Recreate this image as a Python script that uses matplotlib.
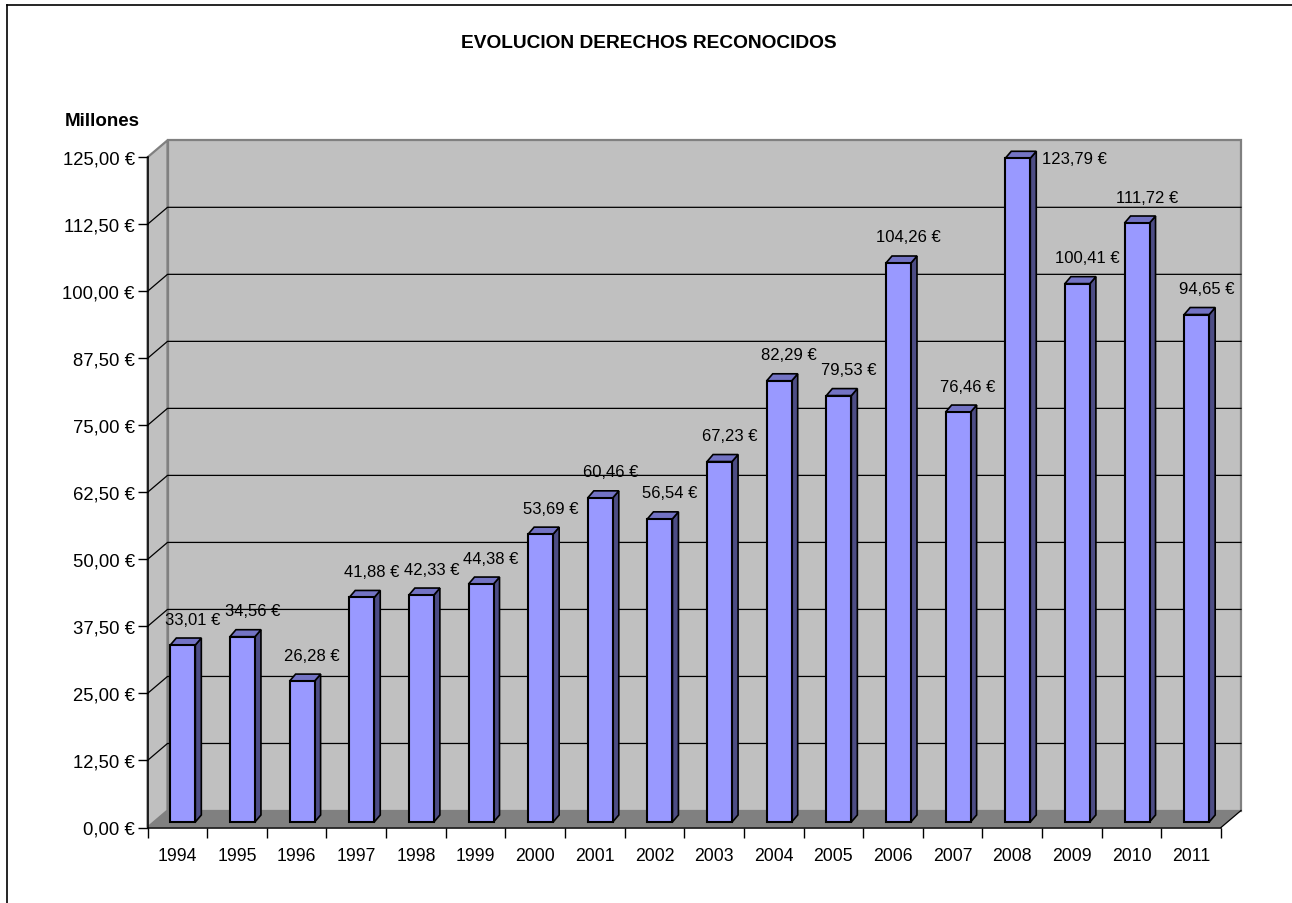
import numpy as np
import matplotlib
matplotlib.use("Agg")
import matplotlib.pyplot as plt
from matplotlib.patches import Polygon
from matplotlib.lines import Line2D

plt.rcParams['font.family'] = ['Liberation Sans', 'DejaVu Sans']

# ---- data ----
years = ['1994', '1995', '1996', '1997', '1998', '1999', '2000', '2001', '2002',
         '2003', '2004', '2005', '2006', '2007', '2008', '2009', '2010', '2011']
values = [33.01, 34.56, 26.28, 41.88, 42.33, 44.38, 53.69, 60.46, 56.54,
          67.23, 82.29, 79.53, 104.26, 76.46, 123.79, 100.41, 111.72, 94.65]
y_ticks = [0, 12.5, 25, 37.5, 50, 62.5, 75, 87.5, 100, 112.5, 125]
title = 'EVOLUCION DERECHOS RECONOCIDOS'
unit_label = 'Millones'


def euro(v):
    return f"{v:.2f}".replace('.', ',') + ' €'


W, H = 1292, 904
fig = plt.figure(figsize=(W / 100, H / 100), dpi=100)
fig.patch.set_facecolor('white')

# front plane of the 3D box in pixels
fx0, fx1 = 147.5, 1221.0
fy0, fy1 = 828.5, 158.3
ax = fig.add_axes([fx0 / W, (H - fy0) / H, (fx1 - fx0) / W, (fy0 - fy1) / H])
n = len(years)
xmin, xmax = -0.5, n - 0.5
ymin, ymax = 0, 125
ax.set_xlim(xmin, xmax)
ax.set_ylim(ymin, ymax)
ax.patch.set_visible(False)

ppx = (fx1 - fx0) / (xmax - xmin)   # pixels per category
ppy = (fy0 - fy1) / (ymax - ymin)   # pixels per unit

# depth of the box (pixels -> data)
DX, DY = 20 / ppx, 17 / ppy
wall_c, floor_c, edge_c = '#C0C0C0', '#808080', '#808080'

# back wall
ax.add_patch(Polygon([(xmin + DX, ymin + DY), (xmax + DX, ymin + DY),
                      (xmax + DX, ymax + DY), (xmin + DX, ymax + DY)],
                     closed=True, facecolor=wall_c, edgecolor=edge_c, lw=1.6,
                     clip_on=False, zorder=1))
# left side wall
ax.add_patch(Polygon([(xmin, ymin), (xmin + DX, ymin + DY),
                      (xmin + DX, ymax + DY), (xmin, ymax)],
                     closed=True, facecolor=wall_c, edgecolor=edge_c, lw=1.6,
                     clip_on=False, zorder=1))
# floor
ax.add_patch(Polygon([(xmin, ymin), (xmax, ymin), (xmax + DX, ymin + DY),
                      (xmin + DX, ymin + DY)],
                     closed=True, facecolor=floor_c, edgecolor='none',
                     clip_on=False, zorder=1.5))
# gridlines
for yv in y_ticks[1:-1]:
    ax.plot([xmin, xmin + DX, xmax + DX], [yv, yv + DY, yv + DY],
            color='black', lw=0.9, clip_on=False, zorder=2)
# right bottom diagonal
ax.plot([xmax, xmax + DX], [ymin, ymin + DY], color='black', lw=0.9,
        clip_on=False, zorder=2)

# bars
BX, BY = 5.5 / ppx, 5.5 / ppy       # bar position inside the depth
BW = 25 / ppx                        # bar front width
bdx, bdy = 6 / ppx, 7 / ppy          # bar depth
xs = np.arange(n)
front_c, side_c, top_c = '#9999FF', '#4D4D85', '#7373C4'
ax.bar(xs + BX, values, width=BW, bottom=BY, color=front_c,
       edgecolor='black', linewidth=1.5, zorder=4, clip_on=False)
for i, v in enumerate(values):
    xl = i + BX - BW / 2
    xr = i + BX + BW / 2
    top = v + BY
    ax.add_patch(Polygon([(xr, BY), (xr + bdx, BY + bdy), (xr + bdx, top + bdy), (xr, top)],
                         closed=True, facecolor=side_c, edgecolor='black', lw=1.2,
                         zorder=3.5, clip_on=False, joinstyle='miter'))
    ax.add_patch(Polygon([(xl, top), (xr, top), (xr + bdx, top + bdy), (xl + bdx, top + bdy)],
                         closed=True, facecolor=top_c, edgecolor='black', lw=1.2,
                         zorder=3.5, clip_on=False, joinstyle='miter'))
    # value label
    if v + 33 / ppy > ymax:
        ax.annotate(euro(v), xy=(xr + bdx, top), xytext=(6, 0),
                    textcoords='offset pixels', ha='left', va='center',
                    fontsize=12, zorder=6, annotation_clip=False)
    else:
        ax.annotate(euro(v), xy=(i + BX, top), xytext=(10, 26),
                    textcoords='offset pixels', ha='center', va='center',
                    fontsize=12, zorder=6, annotation_clip=False)

# axes
for s in ['top', 'right']:
    ax.spines[s].set_visible(False)
for s in ['left', 'bottom']:
    ax.spines[s].set_color('black')
    ax.spines[s].set_linewidth(1.1)
    ax.spines[s].set_zorder(5)

ax.set_yticks(y_ticks)
ax.set_yticklabels([euro(t) for t in y_ticks])
ax.tick_params(axis='y', length=7.2, width=1, pad=2, labelsize=13.3, color='black')

ax.set_xticks(xs)
ax.set_xticklabels(years)
ax.set_xticks(np.arange(n + 1) - 0.5, minor=True)
ax.tick_params(axis='x', which='major', length=0, pad=14, labelsize=12.7)
ax.tick_params(axis='x', which='minor', length=7.2, width=1, color='black')

# titles
fig.text(649 / W, 1 - 44 / H, title, ha='center', va='center',
         fontsize=13.8, fontweight='bold')
fig.text(65 / W, 1 - 121 / H, unit_label, ha='left', va='center',
         fontsize=13.5, fontweight='bold')

# chart area frame (left and top edges visible)
fig.add_artist(Line2D([7 / W, 7 / W], [0, 1 - 6 / H], transform=fig.transFigure,
                      color='black', lw=1.2))
fig.add_artist(Line2D([7 / W, 1], [1 - 6 / H, 1 - 6 / H], transform=fig.transFigure,
                      color='black', lw=1.2))

fig.savefig('out.png', dpi=100, facecolor='white')
